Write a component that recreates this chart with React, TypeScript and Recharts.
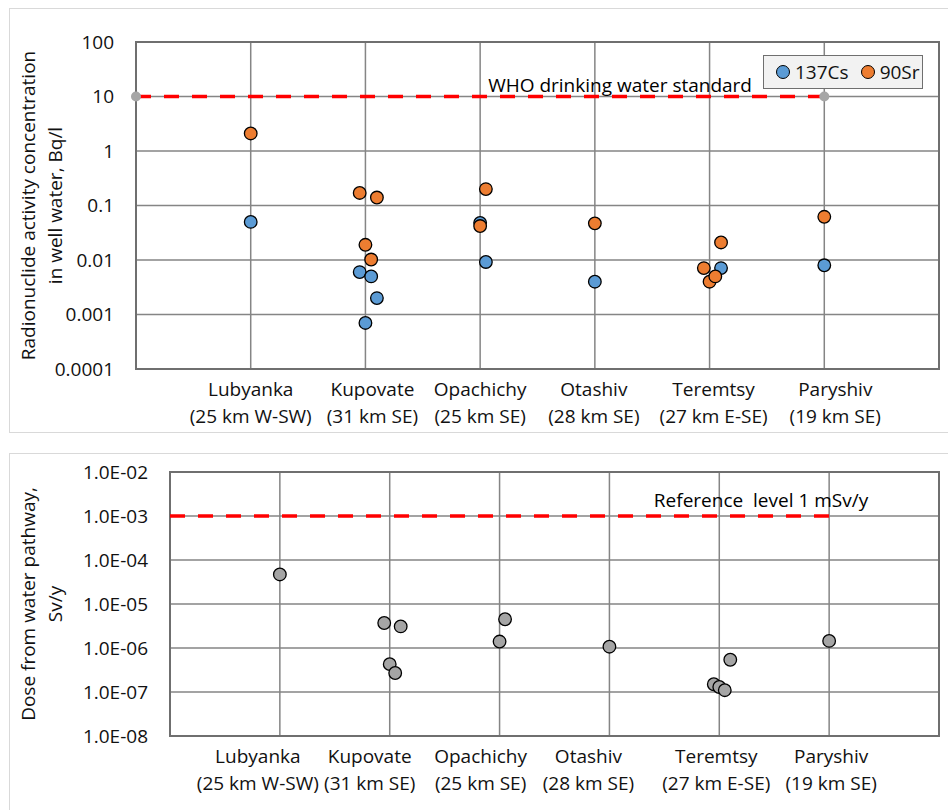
import React from 'react';
import {
  ScatterChart,
  Scatter,
  XAxis,
  YAxis,
  CartesianGrid,
  ReferenceArea,
  ReferenceDot,
  Legend,
} from 'recharts';

const FONT = '"Open Sans", sans-serif';
const TEXT = '#111';
const GRID = '#858585';
const BORDER = '#6f6f6f';

// sampling sites (x = 1..6)
const sites = ['Lubyanka', 'Kupovate', 'Opachichy', 'Otashiv', 'Teremtsy', 'Paryshiv'];
const siteDistances = ['(25 km W-SW)', '(31 km SE)', '(25 km SE)', '(28 km SE)', '(27 km E-SE)', '(19 km SE)'];
const siteTicks = [1, 2, 3, 4, 5, 6];

// 137Cs in well water, Bq/l
const csSite = [1, 2, 2, 2, 2, 3, 3, 4, 5, 6];
const csJitter = [0, -0.05, 0.05, 0.1, 0, 0, 0.05, 0, 0.1, 0];
const csValue = [0.05, 0.006, 0.005, 0.002, 0.0007, 0.048, 0.0092, 0.004, 0.0071, 0.008];

// 90Sr in well water, Bq/l
const srSite = [1, 2, 2, 2, 2, 3, 3, 4, 5, 5, 5, 5, 6];
const srJitter = [0, -0.05, 0.1, 0, 0.05, 0.05, 0, 0, 0.1, -0.05, 0, 0.05, 0];
const srValue = [2.1, 0.17, 0.14, 0.019, 0.0102, 0.2, 0.042, 0.047, 0.021, 0.0071, 0.004, 0.005, 0.062];

// dose from water pathway, Sv/y
const doseSite = [1, 2, 2, 2, 2, 3, 3, 4, 5, 5, 5, 5, 6];
const doseJitter = [0, -0.05, 0.1, 0, 0.05, 0.05, 0, 0, 0.1, -0.05, 0, 0.05, 0];
const doseValue = [4.7e-5, 3.7e-6, 3.1e-6, 4.3e-7, 2.7e-7, 4.5e-6, 1.4e-6, 1.07e-6, 5.4e-7, 1.5e-7, 1.3e-7, 1.1e-7, 1.45e-6];

// limits
const whoLevel = 10;
const doseRefLevel = 1e-3;
const limitSpan = [0, 6];

const concTicks = [1e-4, 1e-3, 1e-2, 0.1, 1, 10, 100];
const concTickLabels = ['0.0001', '0.001', '0.01', '0.1', '1', '10', '100'];
const doseTicks = [1e-8, 1e-7, 1e-6, 1e-5, 1e-4, 1e-3, 1e-2];
const doseTickLabels = ['1.0E-08', '1.0E-07', '1.0E-06', '1.0E-05', '1.0E-04', '1.0E-03', '1.0E-02'];

// label nudges (px) - the original labels are hand placed text boxes
const topLabelShift = [0, 7, 0, -1, 4, 11];
const bottomLabelShift = [-22, -20, -19, -21, -3, 2];

const toPoints = (site: number[], jitter: number[], value: number[]) =>
  value.map((v, i) => ({ x: site[i] + jitter[i], y: v }));

const csData = toPoints(csSite, csJitter, csValue);
const srData = toPoints(srSite, srJitter, srValue);
const doseData = toPoints(doseSite, doseJitter, doseValue);
const whoData = limitSpan.map((x) => ({ x, y: whoLevel }));
const doseRefData = limitSpan.map((x) => ({ x, y: doseRefLevel }));

const labelFor = (ticks: number[], labels: string[]) => (v: number) => {
  const i = ticks.findIndex((t) => Math.abs(Math.log10(t) - Math.log10(v)) < 1e-6);
  return i >= 0 ? labels[i] : '';
};

const dot = (fill: string) => (props: any) => (
  <circle cx={props.cx} cy={props.cy} r={6.3} fill={fill} stroke="#000" strokeWidth={1.3} />
);

const endDot = (props: any) => <circle cx={props.cx} cy={props.cy} r={5} fill="#a6a6a6" />;

const dashStyle = { stroke: '#ff0000', strokeWidth: 3.5, strokeDasharray: '15 13' };

const SiteTick = (props: any) => {
  const { x, y, payload, shifts } = props;
  const i = Math.round(payload.value) - 1;
  const tx = x + (shifts[i] || 0);
  return (
    <text textAnchor="middle" fontSize={19} fill={TEXT}>
      <tspan x={tx} y={y + 19}>{sites[i]}</tspan>
      <tspan x={tx} y={y + 46}>{siteDistances[i]}</tspan>
    </text>
  );
};

const yTitle = (lines: string[]) => (props: any) => {
  const vb = props.viewBox || { x: 0, y: 0, height: 0 };
  const cy = vb.y + vb.height / 2;
  return (
    <g>
      {lines.map((t, i) => {
        const tx = (vb.x || 0) + 27.5 + i * 27;
        return (
          <text
            key={i}
            x={tx}
            y={cy}
            transform={`rotate(-90, ${tx}, ${cy})`}
            textAnchor="middle"
            dominantBaseline="central"
            fontSize={19}
            fill={TEXT}
          >
            {t}
          </text>
        );
      })}
    </g>
  );
};

const limitLabel = (text: string, lift: number) => (props: any) => {
  const vb = props.viewBox;
  return (
    <text
      x={vb.x + vb.width / 2}
      y={vb.y + vb.height / 2 - lift}
      textAnchor="middle"
      fontSize={19}
      fill="#000"
      style={{ whiteSpace: 'pre' }}
    >
      {text}
    </text>
  );
};

const renderLegend = (props: any) => {
  const items = (props.payload || []).filter((p: any) => p.type !== 'none');
  return (
    <div
      style={{
        boxSizing: 'border-box',
        width: 160,
        height: 34,
        background: '#f2f2f2',
        border: `1.5px solid ${BORDER}`,
        display: 'flex',
        alignItems: 'center',
        paddingLeft: 12,
        fontSize: 19,
        color: TEXT,
      }}
    >
      {items.map((it: any, i: number) => (
        <span key={i} style={{ display: 'flex', alignItems: 'center', marginRight: 12 }}>
          <span
            style={{
              display: 'inline-block',
              width: 12,
              height: 12,
              borderRadius: '50%',
              background: it.color,
              border: '1px solid #000',
              marginRight: 5,
            }}
          />
          {it.value}
        </span>
      ))}
    </div>
  );
};

export default function App() {
  return (
    <div
      style={{
        position: 'absolute',
        left: 0,
        top: 0,
        width: 948,
        height: 810,
        overflow: 'hidden',
        background: '#fff',
        fontFamily: FONT,
      }}
    >
      <div style={{ position: 'absolute', left: 9, top: 8, width: 960, height: 425, border: '1.5px solid #d9d9d9', boxSizing: 'border-box' }} />
      <div style={{ position: 'absolute', left: 9, top: 453, width: 960, height: 400, border: '1.5px solid #d9d9d9', boxSizing: 'border-box' }} />

      <div style={{ position: 'absolute', left: 0, top: 0 }}>
        <ScatterChart width={948} height={432} margin={{ top: 42, right: 9, bottom: 3, left: 0 }}>
          <CartesianGrid stroke={GRID} strokeWidth={1.5} />
          <XAxis
            type="number"
            dataKey="x"
            domain={[0, 7]}
            ticks={siteTicks}
            interval={0}
            height={60}
            axisLine={false}
            tickLine={false}
            tick={(p: any) => <SiteTick {...p} shifts={topLabelShift} />}
          />
          <YAxis
            type="number"
            dataKey="y"
            scale="log"
            domain={[1e-4, 100]}
            ticks={concTicks}
            interval={0}
            width={136}
            axisLine={false}
            tickLine={false}
            tickMargin={16}
            tick={{ fontSize: 19, fill: TEXT }}
            tickFormatter={labelFor(concTicks, concTickLabels)}
            label={{ content: yTitle(['Radionuclide activity concentration', 'in well water, Bq/l']) }}
          />
          <ReferenceArea x1={0} x2={7} y1={1e-4} y2={100} fill="none" stroke={BORDER} strokeWidth={2} />
          <ReferenceDot x={4.22} y={whoLevel} r={0} fill="none" stroke="none" label={{ content: limitLabel('WHO drinking water standard', 5) }} />
          <Legend
            layout="horizontal"
            verticalAlign="middle"
            align="center"
            content={renderLegend}
            wrapperStyle={{ left: 763, top: 55, width: 160, height: 34 }}
          />
          <Scatter
            name="137Cs"
            data={csData}
            fill="#5b9bd5"
            shape={dot('#5b9bd5')}
            isAnimationActive={false}
          />
          <Scatter
            name="90Sr"
            data={srData}
            fill="#ed7d31"
            shape={dot('#ed7d31')}
            isAnimationActive={false}
          />
          <Scatter
            name="WHO"
            data={whoData}
            fill="#a6a6a6"
            legendType="none"
            line={dashStyle}
            shape={endDot}
            isAnimationActive={false}
          />
        </ScatterChart>
      </div>

      <div style={{ position: 'absolute', left: 0, top: 440 }}>
        <ScatterChart width={948} height={370} margin={{ top: 32, right: 9, bottom: 4, left: 0 }}>
          <CartesianGrid stroke={GRID} strokeWidth={1.5} />
          <XAxis
            type="number"
            dataKey="x"
            domain={[0, 7]}
            ticks={siteTicks}
            interval={0}
            height={70}
            axisLine={false}
            tickLine={false}
            tick={(p: any) => <SiteTick {...p} shifts={bottomLabelShift} />}
          />
          <YAxis
            type="number"
            dataKey="y"
            scale="log"
            domain={[1e-8, 1e-2]}
            ticks={doseTicks}
            interval={0}
            width={170}
            axisLine={false}
            tickLine={false}
            tickMargin={16}
            tick={{ fontSize: 19, fill: TEXT }}
            tickFormatter={labelFor(doseTicks, doseTickLabels)}
            label={{ content: yTitle(['Dose from water pathway,', 'Sv/y']) }}
          />
          <ReferenceArea x1={0} x2={7} y1={1e-8} y2={1e-2} fill="none" stroke={BORDER} strokeWidth={2} />
          <ReferenceDot x={5.38} y={doseRefLevel} r={0} fill="none" stroke="none" label={{ content: limitLabel('Reference  level 1 mSv/y', 9) }} />
          <Scatter
            name="Dose"
            data={doseData}
            fill="#a5a5a5"
            shape={dot('#a5a5a5')}
            isAnimationActive={false}
          />
          <Scatter
            name="Reference level"
            data={doseRefData}
            fill="#ff0000"
            legendType="none"
            line={dashStyle}
            shape={() => <g />}
            isAnimationActive={false}
          />
        </ScatterChart>
      </div>
    </div>
  );
}
